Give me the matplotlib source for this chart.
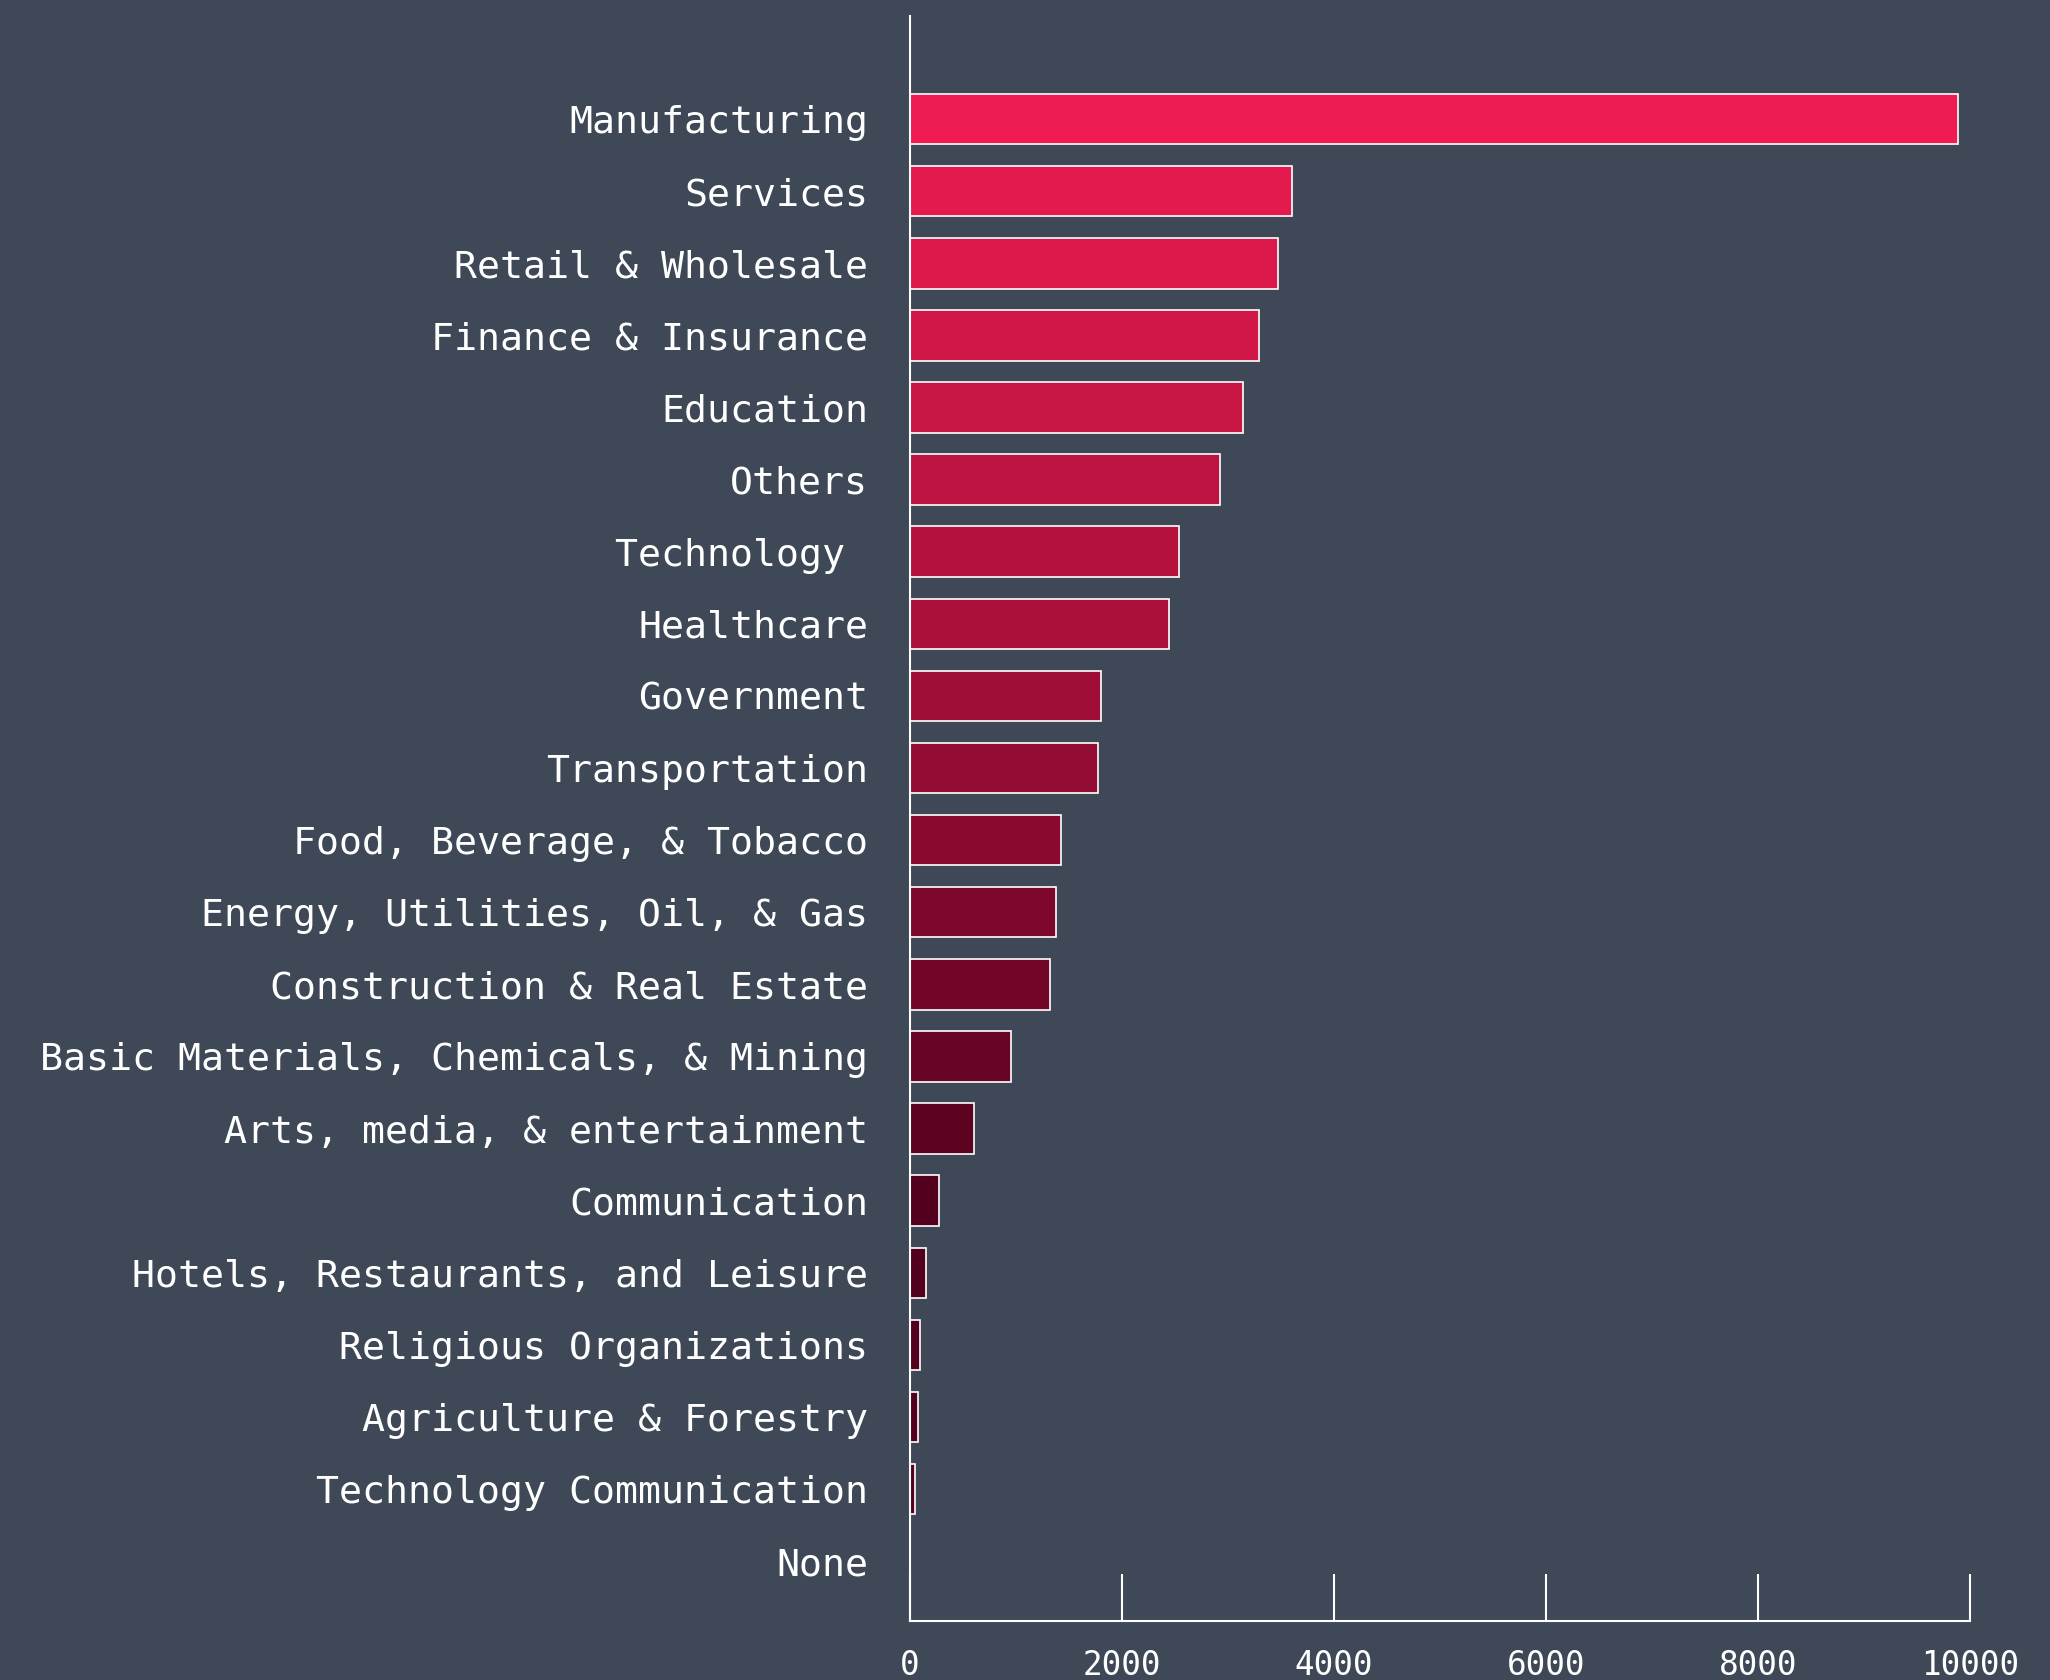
import matplotlib
matplotlib.use("Agg")
import matplotlib.pyplot as plt
from matplotlib.colors import LinearSegmentedColormap
import numpy as np

categories = [
    "Manufacturing", "Services", "Retail & Wholesale", "Finance & Insurance",
    "Education", "Others", "Technology ", "Healthcare", "Government",
    "Transportation", "Food, Beverage, & Tobacco", "Energy, Utilities, Oil, & Gas",
    "Construction & Real Estate", "Basic Materials, Chemicals, & Mining",
    "Arts, media, & entertainment", "Communication",
    "Hotels, Restaurants, and Leisure", "Religious Organizations",
    "Agriculture & Forestry", "Technology Communication", "None",
]
values = [9890, 3600, 3470, 3290, 3140, 2925, 2540, 2440, 1800, 1775,
          1420, 1380, 1320, 950, 600, 275, 150, 95, 72, 48, 0]
xticks = [0, 2000, 4000, 6000, 8000, 10000]

BG = "#3E4856"
FONT = ["DejaVu Sans Mono", "Liberation Mono"]

fig = plt.figure(figsize=(20.5, 16.8), dpi=100, facecolor=BG)
ax = fig.add_axes([910 / 2050, 1 - 1621 / 1680, 1060 / 2050, 1605 / 1680])
ax.set_facecolor(BG)

cmap = LinearSegmentedColormap.from_list("reds", ["#EE1C52", "#A50F38", "#52001E"])
n_dark = 15
colors = [cmap(min(i, n_dark) / n_dark) for i in range(len(categories))]

y = np.arange(len(categories))
ax.barh(y, values, height=0.7, color=colors, edgecolor="white", linewidth=1.2)

ax.set_ylim(len(categories) - 1 + 0.83, -1.43)
ax.set_xlim(0, 10000)
ax.set_yticks(y)
ax.set_yticklabels(categories, fontfamily=FONT, fontsize=27.5, color="white")
ax.set_xticks(xticks)
ax.set_xticklabels([str(t) for t in xticks], fontfamily=FONT, fontsize=23.5, color="white")

ax.tick_params(axis="y", length=0, pad=30)
ax.tick_params(axis="x", direction="in", length=34, width=1.5, color="white", pad=20)

for s in ["top", "right"]:
    ax.spines[s].set_visible(False)
for s in ["left", "bottom"]:
    ax.spines[s].set_color("white")
    ax.spines[s].set_linewidth(1.5)

fig.savefig("out.png", dpi=100, facecolor=BG)
